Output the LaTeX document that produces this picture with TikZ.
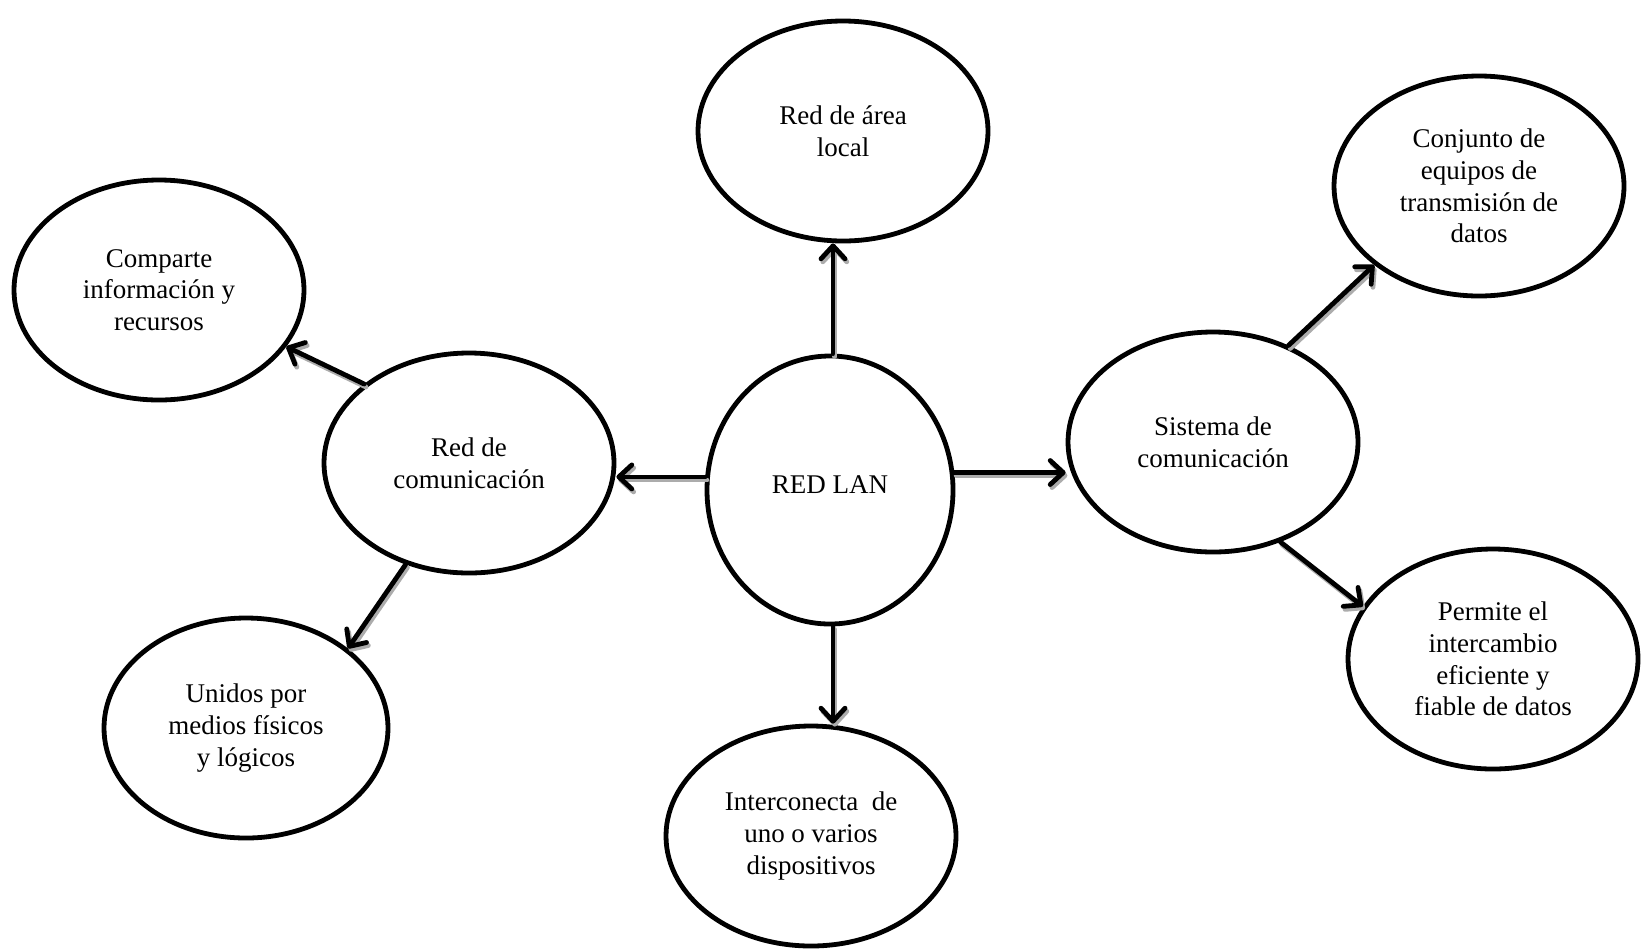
\documentclass[tikz,border=0pt]{standalone}
\usepackage{fontspec}
\setmainfont{Liberation Serif}
\usetikzlibrary{shapes.geometric,arrows.meta}
\begin{document}
\begin{tikzpicture}[x=0.5pt,y=-0.5pt,
  bub/.style={ellipse,draw,line width=2.4pt,inner sep=0pt,align=center,
    minimum width=145pt,minimum height=110pt,
    font=\fontsize{13.5}{15.8}\selectfont},
  conn/.style={line width=2.4pt,line cap=round,
    -{Straight Barb[length=6.5pt,width=12pt,line cap=round,line join=round]}},
  shad/.style={conn,draw=gray!65,transform canvas={xshift=0.9pt,yshift=-1.5pt}}]
\newcommand\myconn[2]{\draw[shad] #1 -- #2; \draw[conn] #1 -- #2;}
\useasboundingbox[fill=white] (0,0) rectangle (1647,949);
\node[bub,minimum width=123pt,minimum height=134pt] (lan) at (830,490) {\raisebox{5pt}{RED LAN}};
\node[bub] (area) at (843,131) {Red de área\\local};
\node[bub] (conj) at (1479,186) {Conjunto de\\equipos de\\transmisión de\\datos};
\node[bub] (comp) at (159,290) {Comparte\\información y\\recursos};
\node[bub] (redc) at (469,463) {Red de\\comunicación};
\node[bub] (sis) at (1213,442) {Sistema de\\comunicación};
\node[bub] (perm) at (1493,659) {Permite el\\intercambio\\eficiente y\\fiable de datos};
\node[bub,minimum width=142pt] (unid) at (246,728) {Unidos por\\medios físicos\\y lógicos};
\node[bub] (inter) at (811,836) {Interconecta\ \ de\\uno o varios\\dispositivos};
\myconn{([xshift=1.5pt]lan.north)}{([xshift=1.5pt]lan.north |- area.south)}
\myconn{([xshift=1.5pt]lan.south)}{([xshift=1.5pt]lan.south |- inter.north)}
\myconn{(lan.174)}{(lan.174 -| redc.east)}
\myconn{(lan.8)}{(lan.8 -| sis.west)}
\myconn{(sis.52)}{(conj.217)}
\myconn{(sis.304)}{(perm.158)}
\myconn{(redc.143)}{(comp.336)}
\myconn{(redc.238)}{(unid.38)}
\end{tikzpicture}
\end{document}
